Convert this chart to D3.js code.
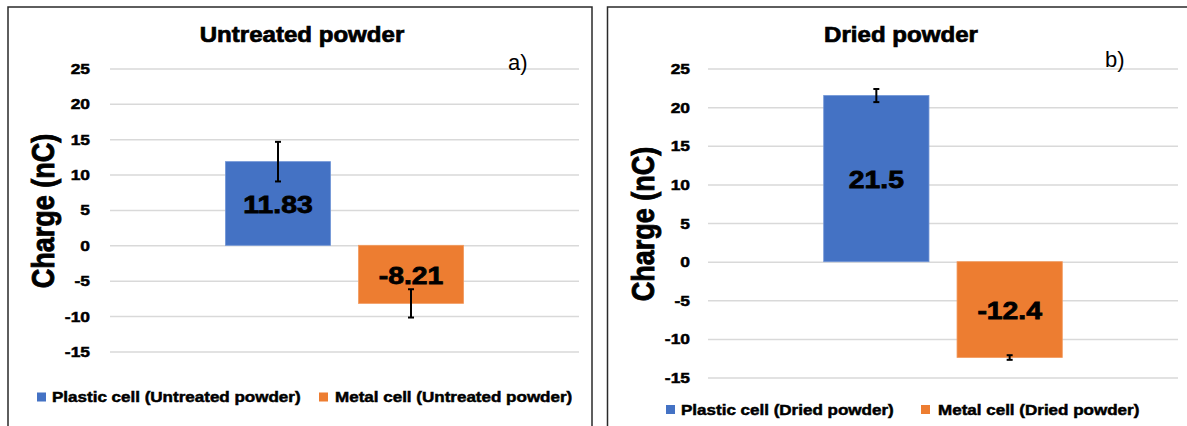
<!DOCTYPE html>
<html>
<head>
<meta charset="utf-8">
<script src="https://cdn.jsdelivr.net/npm/d3@7"></script>
<style>
  html, body { margin: 0; padding: 0; background: #fff; }
  svg { display: block; font-family: "Liberation Sans", Arial, sans-serif; }
</style>
</head>
<body>
<svg id="chart" width="1187" height="426"></svg>
<script>
// ---- data ----
const panelTitles = ["Untreated powder", "Dried powder"];
const panelTags = ["a)", "b)"];
const untreatedSeries = ["Plastic cell (Untreated powder)", "Metal cell (Untreated powder)"];
const driedSeries = ["Plastic cell (Dried powder)", "Metal cell (Dried powder)"];
const untreatedValues = [11.83, -8.21];
const untreatedErrors = [2.8, 2.0];
const driedValues = [21.5, -12.4];
const driedErrors = [0.85, 0.3];
const valueLabels = [["11.83", "-8.21"], ["21.5", "-12.4"]];
const yTicks = [-15, -10, -5, 0, 5, 10, 15, 20, 25];
const yDomain = [-15, 25];
const seriesColors = ["#4472C4", "#ED7D31"];
const yAxisTitle = "Charge (nC)";

// ---- layout ----
const panels = [
  { title: panelTitles[0], tag: panelTags[0], series: untreatedSeries, values: untreatedValues, errors: untreatedErrors, labels: valueLabels[0],
    frame: [8, 7, 584, 440], plotX: [110, 579], plotY: [351.4, 68.5], tickX: 90,
    titleX: 302, titleY: 42, tagX: 508, tagY: 70, yTitleX: 45, yTitleY: 211,
    legendY: 392.5, legendTextY: 401.5, legendItems: [[37, 52], [319, 335]] },
  { title: panelTitles[1], tag: panelTags[1], series: driedSeries, values: driedValues, errors: driedErrors, labels: valueLabels[1],
    frame: [607.5, 7, 600, 440], plotX: [708, 1178], plotY: [377.6, 68.5], tickX: 690,
    titleX: 901, titleY: 42, tagX: 1105, tagY: 67, yTitleX: 645, yTitleY: 224,
    legendY: 405, legendTextY: 414.5, legendItems: [[666, 681], [921, 938]] }
];

const svg = d3.select("#chart");

function stretchedText(g, x, y, txt, size, sx, anchor, weight, heavy) {
  return g.append("text")
    .attr("transform", `translate(${x},${y}) scale(${sx},1)`)
    .attr("text-anchor", anchor)
    .attr("font-size", size)
    .attr("font-weight", weight)
    .attr("fill", "#000")
    .attr("stroke", "#000")
    .attr("stroke-width", heavy)
    .text(txt);
}

panels.forEach(p => {
  const g = svg.append("g");
  // frame
  g.append("rect")
    .attr("x", p.frame[0]).attr("y", p.frame[1])
    .attr("width", p.frame[2]).attr("height", p.frame[3])
    .attr("fill", "none").attr("stroke", "#2a2a2a").attr("stroke-width", 1.5);

  const y = d3.scaleLinear().domain(yDomain).range(p.plotY);
  const xOuter = d3.scaleBand().domain(["cat"]).range(p.plotX).paddingInner(0).paddingOuter(0.485);
  const x = d3.scaleBand().domain(p.series)
    .range([xOuter("cat"), xOuter("cat") + xOuter.bandwidth()])
    .paddingInner(0.2105).paddingOuter(0);

  // gridlines
  const axis = d3.axisLeft(y).tickValues(yTicks).tickSize(-(p.plotX[1] - p.plotX[0])).tickFormat("");
  const ag = g.append("g").attr("transform", `translate(${p.plotX[0]},0)`).call(axis);
  ag.select(".domain").remove();
  ag.selectAll(".tick line").attr("stroke", "#d9d9d9").attr("stroke-width", 1.5);

  // tick labels
  yTicks.forEach(t => {
    stretchedText(g, p.tickX, y(t) + 5.5, String(t), 15, 1.16, "end", "bold", 0.5);
  });

  // bars
  p.series.forEach((s, i) => {
    const v = p.values[i];
    g.append("rect")
      .attr("x", x(s)).attr("width", x.bandwidth())
      .attr("y", y(Math.max(0, v))).attr("height", Math.abs(y(v) - y(0)))
      .attr("fill", seriesColors[i])
      .attr("stroke", i === 0 ? "#6f94d6" : "#f29a5e").attr("stroke-width", 0.8);
  });

  // error bars
  p.series.forEach((s, i) => {
    const v = p.values[i], e = p.errors[i];
    const cx = x(s) + x.bandwidth() / 2;
    const eg = g.append("g").attr("stroke", "#000").attr("stroke-width", 2);
    eg.append("line").attr("x1", cx).attr("x2", cx).attr("y1", y(v + e)).attr("y2", y(v - e));
    [v + e, v - e].forEach(ev => {
      eg.append("line").attr("x1", cx - 3).attr("x2", cx + 3).attr("y1", y(ev)).attr("y2", y(ev));
    });
  });

  // value labels
  p.series.forEach((s, i) => {
    const v = p.values[i];
    const cx = x(s) + x.bandwidth() / 2;
    const cy = (y(v) + y(0)) / 2;
    stretchedText(g, cx, cy + 9.5, p.labels[i], 24, 1.18, "middle", "bold", 0.8);
  });

  // title
  stretchedText(g, p.titleX, p.titleY, p.title, 21.5, 1.12, "middle", "bold", 0.7);
  // panel tag
  g.append("text").attr("x", p.tagX).attr("y", p.tagY)
    .attr("font-size", 22)
    .attr("fill", "#000").text(p.tag);

  // y axis title
  g.append("text")
    .attr("transform", `translate(${p.yTitleX + 9},${p.yTitleY}) rotate(-90) scale(1,1.15)`)
    .attr("text-anchor", "middle")
    .attr("font-size", 27).attr("font-weight", "bold").attr("fill", "#000")
    .attr("stroke", "#000").attr("stroke-width", 0.8)
    .text(yAxisTitle);

  // legend
  p.series.forEach((s, i) => {
    const [sqX, txX] = p.legendItems[i];
    g.append("rect").attr("x", sqX).attr("y", p.legendY).attr("width", 9).attr("height", 9).attr("fill", seriesColors[i]);
    stretchedText(g, txX, p.legendTextY, s, 15, 1.135, "start", "bold", 0.5);
  });
});
</script>
</body>
</html>
